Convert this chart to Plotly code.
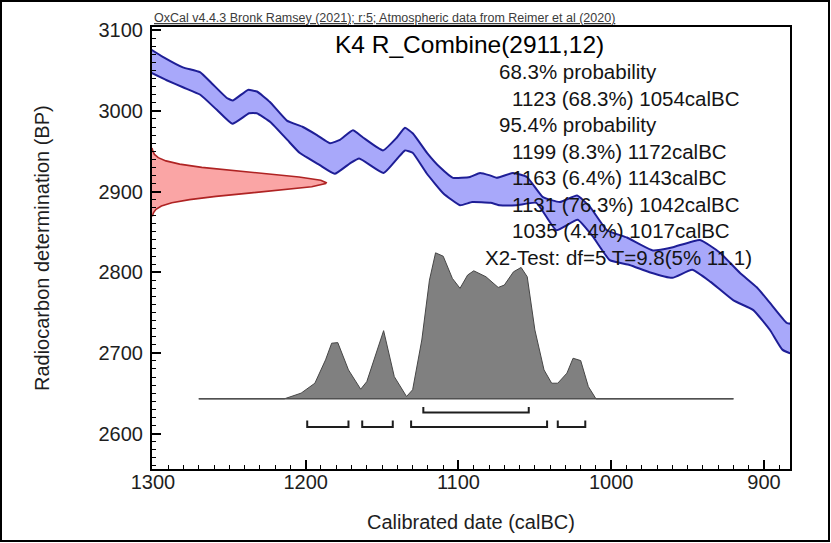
import plotly.graph_objects as go

# ---------------- data ----------------
cal_upper_year = [1302, 1293.5, 1280.4, 1269.2, 1261.4, 1251.6, 1247.6, 1237.8, 1231.9, 1223.4,
                  1212.3, 1201.8, 1192.6, 1184.1, 1177.6, 1169.1, 1162.5, 1149.4, 1140.3, 1135,
                  1129.8, 1120.6, 1112.1, 1103.6, 1092.5, 1085.9, 1079.4, 1074.8, 1064.3, 1055.2,
                  1044.7, 1033.6, 1022.4, 1013.9, 1002.8, 989.7, 972.7, 959.6, 941.9, 928.8,
                  915.7, 904.6, 896.1, 885, 880]
cal_upper_bp = [3077, 3067, 3054, 3048, 3034, 3016, 3013, 3026, 3024, 3011,
                2988, 2980, 2970, 2960, 2964, 2976, 2967, 2951, 2967, 2979,
                2972, 2948, 2930, 2917, 2918, 2923, 2920, 2917, 2923, 2918,
                2893, 2887, 2895, 2881, 2852, 2843, 2827, 2831, 2840, 2824,
                2799, 2781, 2762, 2737, 2735]
cal_lower_year = [1302, 1291, 1280, 1269, 1258, 1248, 1237, 1232, 1223, 1212,
                  1204, 1191, 1181, 1171, 1165, 1149, 1140, 1135, 1130, 1121,
                  1110, 1099, 1091, 1079, 1073, 1062, 1049, 1036, 1022, 1012,
                  1001, 988, 975, 960, 947, 935, 920, 907, 896, 888, 880]
cal_lower_bp = [3048, 3038, 3029, 3020, 3001, 2984, 2997, 2997, 2986, 2964,
                2948, 2933, 2922, 2935, 2941, 2923, 2941, 2951, 2948, 2923,
                2898, 2883, 2887, 2886, 2883, 2883, 2886, 2852, 2865, 2844,
                2815, 2809, 2800, 2793, 2803, 2788, 2765, 2753, 2728, 2704, 2698]

# R_Combine(2911,12) radiocarbon determination (relative density)
r_bp = [2870, 2874, 2878, 2882, 2886, 2890, 2894, 2898, 2902, 2906, 2910, 2911,
        2914, 2918, 2922, 2926, 2930, 2934, 2938, 2942, 2946, 2950, 2954]
r_dens = [0.003, 0.009, 0.023, 0.054, 0.114, 0.216, 0.367, 0.556, 0.755, 0.917, 0.997, 1.0,
          0.969, 0.844, 0.657, 0.458, 0.286, 0.159, 0.080, 0.036, 0.014, 0.005, 0.002]

# calibrated probability distribution (relative)
cal_year = [1270, 1214, 1203, 1194, 1187, 1183, 1179, 1172, 1164, 1160,
            1149, 1142, 1134, 1130, 1124, 1119, 1115, 1110, 1104, 1099,
            1094, 1090, 1082, 1074, 1070, 1064, 1059, 1055, 1050, 1044,
            1039, 1035, 1029, 1025, 1020, 1015, 1010, 920]
cal_prob = [0, 0, 0.039, 0.107, 0.267, 0.381, 0.385, 0.198, 0.066, 0.118,
            0.467, 0.152, 0.016, 0.062, 0.403, 0.813, 1.0, 0.977, 0.825, 0.757,
            0.848, 0.877, 0.836, 0.763, 0.779, 0.870, 0.900, 0.836, 0.472, 0.198,
            0.107, 0.107, 0.176, 0.278, 0.262, 0.084, 0, 0]

ranges_68 = [(1123, 1054)]
ranges_95 = [(1199, 1172), (1163, 1143), (1131, 1042), (1035, 1017)]

title_text = "K4 R_Combine(2911,12)"
header_text = "OxCal v4.4.3 Bronk Ramsey (2021); r:5; Atmospheric data from Reimer et al (2020)"
info_lines = [
    ("68.3% probability", 0),
    ("1123 (68.3%) 1054calBC", 1),
    ("95.4% probability", 0),
    ("1199 (8.3%) 1172calBC", 1),
    ("1163 (6.4%) 1143calBC", 1),
    ("1131 (76.3%) 1042calBC", 1),
    ("1035 (4.4%) 1017calBC", 1),
    ("X2-Test: df=5 T=9.8(5% 11.1)", -1),
]
x_ticks = [1300, 1200, 1100, 1000, 900]
y_ticks = [2600, 2700, 2800, 2900, 3000, 3100]

# ---------------- layout constants ----------------
FONT = "Liberation Sans, Arial, Helvetica, sans-serif"
X_RANGE = [1300.6, 883]
Y_RANGE = [2556, 3104]
BASE_BP = 2643      # baseline of calibrated distribution
DIST_H = 181        # height of distribution peak (BP units)
R_W = 114           # width of R_Combine curve (years)
R_X0 = 1300.6

fig = go.Figure()

# calibration curve band
band_x = cal_upper_year + cal_lower_year[::-1]
band_y = cal_upper_bp + cal_lower_bp[::-1]
fig.add_trace(go.Scatter(x=band_x, y=band_y, mode="lines", fill="toself",
                         fillcolor="rgb(168,168,250)",
                         line=dict(color="rgb(30,30,150)", width=2, shape="spline", smoothing=0.4),
                         hoverinfo="skip", showlegend=False))

# radiocarbon determination (red)
rx = [R_X0] + [R_X0 - d * R_W for d in r_dens] + [R_X0]
ry = [r_bp[0]] + r_bp + [r_bp[-1]]
fig.add_trace(go.Scatter(x=rx, y=ry, mode="lines", fill="toself",
                         fillcolor="rgb(250,165,165)",
                         line=dict(color="rgb(175,35,35)", width=1.6),
                         hoverinfo="skip", showlegend=False))

# calibrated distribution (grey)
gy = [BASE_BP + p * DIST_H for p in cal_prob]
fig.add_trace(go.Scatter(x=cal_year, y=gy, mode="lines", fill="toself",
                         fillcolor="rgb(128,128,128)",
                         line=dict(color="rgb(70,70,70)", width=1),
                         hoverinfo="skip", showlegend=False))
fig.add_trace(go.Scatter(x=[cal_year[0], cal_year[-1]], y=[BASE_BP, BASE_BP], mode="lines",
                         line=dict(color="rgb(80,80,80)", width=1.5),
                         hoverinfo="skip", showlegend=False))

# range brackets
def bracket_xy(ranges, y_line, y_tick):
    xs, ys = [], []
    for a, b in ranges:
        xs += [a, a, b, b, None]
        ys += [y_tick, y_line, y_line, y_tick, None]
    return xs, ys

for rngs, yl, yt in [(ranges_68, 2626, 2633), (ranges_95, 2608, 2616)]:
    bx, by = bracket_xy(rngs, yl, yt)
    fig.add_trace(go.Scatter(x=bx, y=by, mode="lines",
                             line=dict(color="rgb(30,30,30)", width=2),
                             hoverinfo="skip", showlegend=False))

# ---------------- annotations ----------------
ann = []
ann.append(dict(text="<u>" + header_text + "</u>", x=0, y=1.021, xref="paper", yref="paper",
                xanchor="left", yanchor="middle", showarrow=False,
                font=dict(family=FONT, size=12.5, color="rgb(60,60,60)")))
ann.append(dict(text=title_text, x=0.4984, y=0.9593, xref="paper", yref="paper",
                xanchor="center", yanchor="middle", showarrow=False,
                font=dict(family=FONT, size=24.5, color="black")))
x_for_indent = {0: 0.5408, 1: 0.5611, -1: 0.5188}
for i, (t, ind) in enumerate(info_lines):
    ann.append(dict(text=t, x=x_for_indent[ind], y=0.8982 - i * 0.05995,
                    xref="paper", yref="paper", xanchor="left", yanchor="middle",
                    showarrow=False, font=dict(family=FONT, size=20.5, color="rgb(20,20,20)")))
ann.append(dict(text="Calibrated date (calBC)", x=0.5, y=-0.12, xref="paper", yref="paper",
                xanchor="center", yanchor="middle", showarrow=False,
                font=dict(family=FONT, size=20, color="rgb(30,30,30)")))
ann.append(dict(text="Radiocarbon determination (BP)", x=-0.1724, y=0.5, xref="paper", yref="paper",
                xanchor="center", yanchor="middle", showarrow=False, textangle=-90,
                font=dict(family=FONT, size=20, color="rgb(30,30,30)")))

fig.update_layout(
    width=831, height=543,
    margin=dict(l=152, r=41, t=27, b=74),
    paper_bgcolor="white", plot_bgcolor="white",
    annotations=ann,
    shapes=[dict(type="rect", xref="paper", yref="paper",
                 x0=-151 / 638, x1=1 + 39 / 638, y0=-72 / 442, y1=1 + 26 / 442,
                 line=dict(color="black", width=2),
                 fillcolor="rgba(0,0,0,0)", layer="above")],
    font=dict(family=FONT, color="rgb(30,30,30)"),
)
fig.update_xaxes(range=X_RANGE, tickvals=x_ticks, showgrid=False, zeroline=False,
                 showline=True, linecolor="black", linewidth=2, mirror=True,
                 ticks="inside", ticklen=9, tickwidth=1.5, tickcolor="black",
                 ticklabelstandoff=-6,
                 minor=dict(dtick=10, tick0=0, ticks="inside", ticklen=4, tickcolor="black", tickwidth=1),
                 tickfont=dict(family=FONT, size=20, color="rgb(30,30,30)"))
fig.update_yaxes(range=Y_RANGE, tickvals=y_ticks, showgrid=False, zeroline=False,
                 showline=True, linecolor="black", linewidth=2, mirror=True,
                 ticks="inside", ticklen=9, tickwidth=1.5, tickcolor="black",
                 ticklabelstandoff=3,
                 minor=dict(dtick=10, tick0=0, ticks="inside", ticklen=4, tickcolor="black", tickwidth=1),
                 tickfont=dict(family=FONT, size=20, color="rgb(30,30,30)"))

fig.write_html("out.html", config={"displayModeBar": False},
               post_script="document.body.style.margin='0px';")
